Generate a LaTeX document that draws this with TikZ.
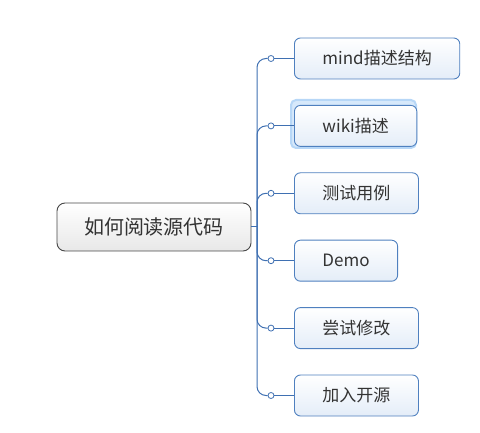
\documentclass[tikz,border=0pt]{standalone}
\usepackage{fontspec}
\newfontfamily\cjk{Noto Sans CJK SC}
\usetikzlibrary{positioning}
\definecolor{linkblue}{HTML}{3F70B2}
\definecolor{boxblue}{HTML}{4F80BF}
\definecolor{fillblue}{HTML}{E4EDF8}
\definecolor{glowblue}{HTML}{B7D7F7}
\definecolor{rootgray}{HTML}{474747}
\definecolor{inkgray}{HTML}{333333}

\begin{document}
\begin{tikzpicture}[x=1pt,y=-1pt,
  topic/.style={draw=boxblue,line width=0.9pt,rounded corners=6pt,top color=white,bottom color=fillblue,
    minimum height=41pt,inner xsep=28pt,anchor=west,text=inkgray,font=\cjk\fontsize{17}{17}\selectfont},
  rootbox/.style={draw=rootgray,line width=0.9pt,rounded corners=8pt,top color=white,bottom color=black!9,
    minimum height=48pt,minimum width=194pt,text=inkgray,font=\cjk\fontsize{20}{20}\selectfont},
  dot/.style={draw=linkblue,fill=white,circle,inner sep=0pt,minimum size=6pt,line width=0.8pt},
  link/.style={draw=linkblue,line width=1pt}]
\useasboundingbox (0,0) rectangle (480,433);
% selection glow behind the second topic
\filldraw[fill=glowblue!55,draw=glowblue,line width=2pt,rounded corners=5pt] (291,100) rectangle (416,148);
\node[rootbox] (src) at (154,227) {如何阅读源代码};
\coordinate (trunk) at (257,227);
\draw[link] (src.east) -- (trunk);
\foreach \txt [count=\i] in {mind描述结构,wiki描述,测试用例,Demo,尝试修改,加入开源}{
  \node[topic] (t\i) at (294,{58.5+(\i-1)*67.4}) {\txt};
  \node[dot] (d\i) at (271,{58.5+(\i-1)*67.4}) {};
  \draw[link,rounded corners=9pt] (trunk) |- (d\i);
  \draw[link] (d\i) -- (t\i);
}
\end{tikzpicture}
\end{document}
